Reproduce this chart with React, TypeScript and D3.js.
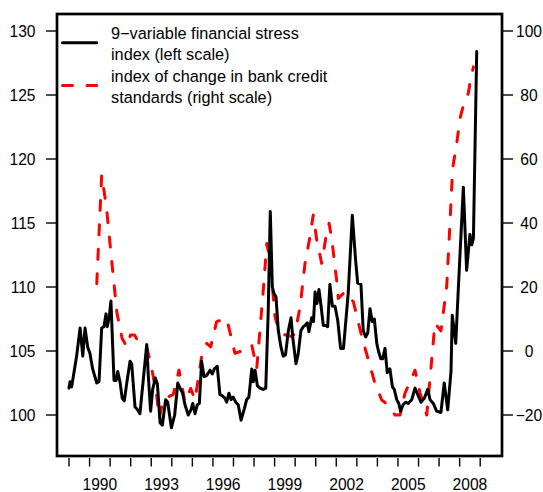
import * as d3 from 'd3';

// monthly financial stress index (left scale), decimal years
const stressYears = [
  1989.0, 1989.05, 1989.13, 1989.24, 1989.37, 1989.54, 1989.67, 1989.78, 1989.91, 1990.02,
  1990.15, 1990.35, 1990.46, 1990.59, 1990.7, 1990.8, 1990.86, 1990.96, 1991.04, 1991.19,
  1991.29, 1991.37, 1991.48, 1991.59, 1991.69, 1991.81, 1991.97, 1992.05, 1992.21, 1992.34,
  1992.45, 1992.61, 1992.78, 1992.86, 1992.97, 1993.07, 1993.2, 1993.3, 1993.43, 1993.54,
  1993.7, 1993.8, 1993.98, 1994.14, 1994.29, 1994.4, 1994.53, 1994.64, 1994.8, 1994.93,
  1995.02, 1995.13, 1995.24, 1995.34, 1995.45, 1995.57, 1995.7, 1995.86, 1995.97, 1996.07,
  1996.21, 1996.34, 1996.46, 1996.59, 1996.67, 1996.78, 1996.88, 1996.99, 1997.11, 1997.23,
  1997.37, 1997.53, 1997.64, 1997.75, 1997.89, 1997.96, 1998.05, 1998.16, 1998.29, 1998.45,
  1998.57, 1998.69, 1998.79, 1998.89, 1998.97, 1999.07, 1999.18, 1999.31, 1999.42, 1999.53,
  1999.67, 1999.8, 1999.88, 2000.04, 2000.15, 2000.28, 2000.4, 2000.48, 2000.59, 2000.67,
  2000.8, 2000.89, 2000.97, 2001.06, 2001.16, 2001.26, 2001.37, 2001.48, 2001.58, 2001.69,
  2001.81, 2001.94, 2002.07, 2002.21, 2002.35, 2002.58, 2002.78, 2002.94, 2003.04, 2003.2,
  2003.31, 2003.43, 2003.53, 2003.64, 2003.75, 2003.85, 2003.97, 2004.05, 2004.16, 2004.26,
  2004.37, 2004.48, 2004.61, 2004.73, 2004.82, 2004.94, 2005.04, 2005.13, 2005.25, 2005.38,
  2005.5, 2005.67, 2005.83, 2005.96, 2006.12, 2006.28, 2006.45, 2006.56, 2006.72, 2006.88,
  2007.09, 2007.25, 2007.42, 2007.58, 2007.64, 2007.81, 2007.94, 2008.18, 2008.34, 2008.5,
  2008.59, 2008.67, 2008.83,
];
const stressValues = [
  102.1, 102.6, 102.2, 103.3, 104.6, 106.8, 104.6, 106.8, 105.3, 104.8,
  103.6, 102.5, 102.6, 106.8, 106.9, 107.9, 106.9, 107.7, 108.9, 102.7,
  102.7, 103.4, 102.6, 101.3, 101.1, 102.5, 104.2, 104.0, 100.65, 100.4,
  100.1, 102.7, 105.5, 103.0, 100.3, 102.0, 102.9, 102.4, 99.4, 99.2,
  101.2, 101.0, 99.0, 100.0, 102.5, 102.1, 101.7, 100.8, 100.0, 100.4,
  100.9, 100.1, 100.8, 100.9, 104.2, 103.0, 103.1, 103.5, 103.2, 103.6,
  103.8, 101.6, 101.5, 101.3, 101.0, 101.7, 101.2, 101.4, 101.0, 100.8,
  99.6, 100.5, 101.2, 101.4, 103.6, 102.6, 103.5, 102.3, 102.1, 102.0,
  102.1, 108.1, 115.9, 110.0, 109.5, 109.2, 106.6, 105.3, 104.6, 104.7,
  106.6, 107.6, 106.1, 104.0, 104.8, 106.6, 106.9, 107.0, 107.2, 106.5,
  107.6, 107.3, 109.6, 108.7, 109.8, 108.5, 107.0, 107.0, 106.9, 110.2,
  108.5, 108.5, 107.4, 105.2, 105.2, 109.5, 115.6, 112.1, 110.3, 110.2,
  106.6, 106.1, 106.4, 108.3, 107.3, 107.5, 105.6, 105.0, 104.4, 104.4,
  105.2, 103.3, 103.6, 102.2, 102.0, 101.2, 100.9, 100.3, 100.8, 101.0,
  100.9, 101.2, 102.1, 101.6, 101.0, 101.3, 102.0, 101.2, 100.9, 100.3,
  100.2, 102.5, 100.4, 103.4, 107.8, 105.6, 110.0, 117.8, 111.3, 114.1,
  113.3, 113.8, 128.4,
];

// index of change in bank credit standards (right scale)
const creditYears = [
  1990.35, 1990.59, 1990.82, 1991.08, 1991.33, 1991.58, 1991.81, 1991.99, 1992.19, 1992.45,
  1992.78, 1993.01, 1993.27, 1993.39, 1993.59, 1994.07, 1994.35, 1994.64, 1994.92, 1995.13,
  1995.45, 1995.7, 1995.89, 1996.18, 1996.67, 1997.07, 1997.64, 1997.89, 1998.13, 1998.45,
  1998.62, 1998.78, 1999.02, 1999.26, 1999.83, 1999.99, 2000.24, 2000.48, 2000.72, 2000.88,
  2001.05, 2001.29, 2001.53, 2001.65, 2001.78, 2002.02, 2002.1, 2002.42, 2002.83, 2003.24,
  2003.56, 2003.88, 2004.21, 2004.45, 2004.86, 2005.1, 2005.34, 2005.83, 2006.07, 2006.4,
  2006.61, 2006.8, 2007.09, 2007.37, 2007.53, 2007.66, 2007.86, 2008.02, 2008.23, 2008.42,
  2008.54, 2008.67,
];
const creditValues = [
  21, 55, 45, 28, 12, 4, 1.3, 5, 5, 2,
  1.3, -5, -14, -21, -15, -13.6, -6, -16, -11.7, -15.3,
  -1.8, 2.4, 1.3, 9.2, 10.2, -0.7, 0.5, 1.9, -5.5, 19,
  33.6, 28.4, 10.7, 5.5, 4.5, 5.5, 13.8, 27.4, 35.7, 42.5,
  34.7, 27.4, 36.8, 39.9, 35, 22, 16.4, 18.5, 15.4, 4.5,
  -2.8, -10.1, -15.3, -16.5, -20, -20, -13.2, -6, -13, -20,
  -5, 8.7, 6.3, 20, 40, 57, 65, 72.7, 78, 80.5,
  85.2, 88.8,
];

const leftTicks = [100, 105, 110, 115, 120, 125, 130];
const rightTicks = [-20, 0, 20, 40, 60, 80, 100];
const yearTicks = [
  1989, 1990, 1991, 1992, 1993, 1994, 1995, 1996, 1997, 1998, 1999,
  2000, 2001, 2002, 2003, 2004, 2005, 2006, 2007, 2008, 2009,
];
const yearLabels = [1990, 1993, 1996, 1999, 2002, 2005, 2008];

const legendItems = [
  { lines: ['9\u2212variable financial stress', 'index (left scale)'], color: '#000000', dash: null },
  { lines: ['index of change in bank credit', 'standards (right scale)'], color: '#FF0000', dash: '10,14.5' },
];

const W = 543;
const H = 492;
const box = { left: 57, right: 502, top: 14, bottom: 456 };
const font = '"Liberation Sans", Arial, Helvetica, sans-serif';

export default function App() {
  const x = d3.scaleLinear().domain([1989, 2009]).range([69, 480.2]);
  const yLeft = d3.scaleLinear().domain([100, 130]).range([415, 31]);
  const yRight = d3.scaleLinear().domain([-20, 100]).range([415, 31]);

  const stressLine = d3.line<number>()
    .x((_, i) => x(stressYears[i]))
    .y(d => yLeft(d));
  const creditLine = d3.line<number>()
    .x((_, i) => x(creditYears[i]))
    .y(d => yRight(d));

  return (
    <svg width={W} height={H} style={{ position: 'absolute', left: 0, top: 0, background: '#fff' }}
      fontFamily={font}>
      <path d={creditLine(creditValues) || ''} fill="none" stroke="#FF0000" strokeWidth={3}
        strokeDasharray="10,14.5" strokeLinecap="round" strokeLinejoin="round" />
      <path d={stressLine(stressValues) || ''} fill="none" stroke="#000" strokeWidth={3}
        strokeLinecap="round" strokeLinejoin="round" />

      <rect x={box.left} y={box.top} width={box.right - box.left} height={box.bottom - box.top}
        fill="none" stroke="#000" strokeWidth={2.7} />

      {/* left axis */}
      {leftTicks.map(t => (
        <g key={'l' + t}>
          <line x1={46} x2={box.left} y1={yLeft(t)} y2={yLeft(t)} stroke="#000" strokeWidth={1.4} />
          <text x={35.5} y={yLeft(t)} dy="0.36em" textAnchor="end" fontSize={15.6}>{t}</text>
        </g>
      ))}

      {/* right axis */}
      {rightTicks.map(t => (
        <g key={'r' + t}>
          <line x1={box.right} x2={513} y1={yRight(t)} y2={yRight(t)} stroke="#000" strokeWidth={1.4} />
          <text x={529} y={yRight(t)} dy="0.36em" textAnchor="middle" fontSize={15.6}>
            {t < 0 ? '\u2212' + Math.abs(t) : t}
          </text>
        </g>
      ))}

      {/* bottom axis */}
      {yearTicks.map(t => (
        <line key={'x' + t} x1={x(t)} x2={x(t)} y1={box.bottom + 2} y2={466.5} stroke="#000" strokeWidth={1.4} />
      ))}
      {yearLabels.map(t => (
        <text key={'xl' + t} x={x(t + 0.5)} y={490.3} textAnchor="middle" fontSize={15.6}>{t}</text>
      ))}

      {/* legend */}
      {legendItems.map((item, i) => {
        const top = i === 0 ? 33.3 : 76;
        return (
          <g key={'lg' + i}>
            <line x1={62.5} x2={96.7} y1={top + 9.5} y2={top + 9.5} stroke={item.color} strokeWidth={3}
              strokeDasharray={item.dash || undefined} strokeLinecap="round" />
            {item.lines.map((s, j) => (
              <text key={j} x={111} y={top + j * 20.7} dy="0.36em" fontSize={16.3}>{s}</text>
            ))}
          </g>
        );
      })}
    </svg>
  );
}
